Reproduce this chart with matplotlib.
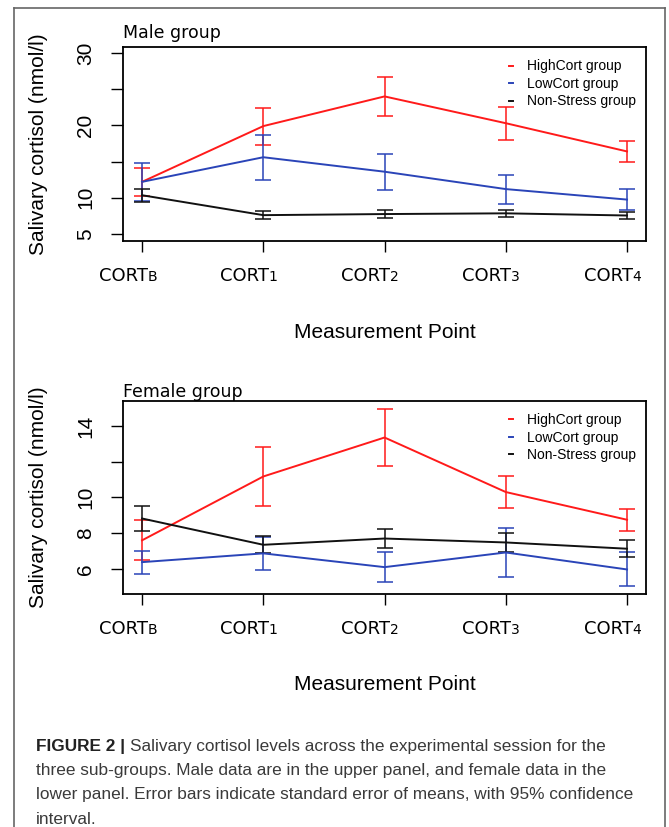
import numpy as np
import matplotlib
matplotlib.use("Agg")
import matplotlib.pyplot as plt
from matplotlib.lines import Line2D

# measurement points (x axis), subscript part of each label
points = ["B", "1", "2", "3", "4"]
groups = ["HighCort group", "LowCort group", "Non-Stress group"]
colors = ["#ff1a1a", "#2a44b8", "#111111"]

# male group: means and error half widths (nmol/l)
male_high = [12.2, 19.9, 24.0, 20.3, 16.4]
male_high_err = [1.95, 2.55, 2.7, 2.3, 1.5]
male_low = [12.2, 15.6, 13.6, 11.2, 9.75]
male_low_err = [2.6, 3.1, 2.5, 2.0, 1.5]
male_ns = [10.35, 7.6, 7.75, 7.85, 7.55]
male_ns_err = [0.88, 0.53, 0.57, 0.5, 0.55]

# female group
female_high = [7.6, 11.17, 13.35, 10.3, 8.75]
female_high_err = [1.12, 1.64, 1.62, 0.87, 0.61]
female_low = [6.38, 6.87, 6.1, 6.92, 5.97]
female_low_err = [0.65, 0.94, 0.84, 1.38, 0.95]
female_ns = [8.82, 7.35, 7.7, 7.48, 7.13]
female_ns_err = [0.69, 0.47, 0.53, 0.52, 0.48]

male_yticks = [5, 10, 15, 20, 25, 30]
male_ylabels = ["5", "10", "", "20", "", "30"]
female_yticks = [6, 8, 10, 12, 14]
female_ylabels = ["6", "8", "10", "", "14"]

caption_bold = "FIGURE 2 |"
caption_lines = [
    "Salivary cortisol levels across the experimental session for the",
    "three sub-groups. Male data are in the upper panel, and female data in the",
    "lower panel. Error bars indicate standard error of means, with 95% confidence",
    "interval.",
]

sans = ["Liberation Sans", "DejaVu Sans"]

fig = plt.figure(figsize=(6.69, 8.27), dpi=100)

ax1 = fig.add_axes([0.1839, 0.7086, 0.7818, 0.2346])
ax2 = fig.add_axes([0.1839, 0.2818, 0.7818, 0.2337])


def panel(ax, series, errs, yticks, ylabels, ylim, title, title_pad, leg_y):
    x = np.arange(len(points))
    for vals, err, col, name in zip(series, errs, colors, groups):
        ax.errorbar(x, vals, yerr=err, color=col, lw=1.4, elinewidth=1.1,
                    capsize=5.5, capthick=1.1, label=name)
    ax.set_xlim(-0.157, 4.157)
    ax.set_ylim(*ylim)
    ax.set_yticks(yticks)
    ax.set_yticklabels(ylabels, family=sans, fontsize=15, rotation=90, va="center")
    ax.set_xticks(x)
    ax.set_xticklabels([])
    ax.tick_params(axis="y", length=9, width=1.0, pad=11)
    ax.tick_params(axis="x", length=8, width=1.0)
    for s in ax.spines.values():
        s.set_linewidth(1.3)
    for i, p in enumerate(points):
        ax.annotate("CORT", xy=(i, 0), xycoords=("data", "axes fraction"),
                    xytext=(4, -29), textcoords="offset points",
                    ha="right", va="baseline", fontsize=13, family="DejaVu Sans")
        ax.annotate(p, xy=(i, 0), xycoords=("data", "axes fraction"),
                    xytext=(4, -29), textcoords="offset points",
                    ha="left", va="baseline", fontsize=10, family="DejaVu Sans")
    ax.set_ylabel("Salivary cortisol (nmol/l)", family=sans, fontsize=15, va="center")
    ax.yaxis.set_label_coords(-0.162, 0.5)
    ax.set_xlabel("Measurement Point", family=sans, fontsize=15, va="center")
    ax.xaxis.set_label_coords(0.5, -0.47)
    ax.set_title(title, loc="left", fontsize=12.5, family="DejaVu Sans", pad=title_pad)
    handles = [Line2D([], [], color=c, lw=1.4) for c in colors]
    ax.legend(handles, groups, loc="upper left", bbox_to_anchor=(0.715, leg_y),
              frameon=False, handlelength=0.25, handletextpad=1.0,
              labelspacing=0.25, prop={"family": sans, "size": 10})


panel(ax1, [male_high, male_low, male_ns],
      [male_high_err, male_low_err, male_ns_err],
      male_yticks, male_ylabels, (4.03, 30.83), "Male group", 6.5, 1.0)
panel(ax2, [female_high, female_low, female_ns],
      [female_high_err, female_low_err, female_ns_err],
      female_yticks, female_ylabels, (4.6, 15.41), "Female group", 3.0, 1.0)

# caption
cap_size = 12.4
t1 = fig.text(0.054, 1 - 746 / 827, caption_bold, fontsize=cap_size, weight="bold",
              family=sans, color="#222222", va="center")
ax2.annotate(caption_lines[0], xy=(1, 0.5), xycoords=t1, xytext=(3.5, 0),
             textcoords="offset points", va="center", fontsize=cap_size,
             family=sans, color="#3a3a3a")
for k, line in enumerate(caption_lines[1:], start=1):
    fig.text(0.054, 1 - (746 + 24.5 * k) / 827, line, fontsize=cap_size,
             family=sans, color="#3a3a3a", va="center")

# outer frame
fc = "#666666"
fig.add_artist(Line2D([14 / 669, 14 / 669], [0, 1 - 8 / 827], color=fc, lw=1.2))
fig.add_artist(Line2D([14 / 669, 665 / 669], [1 - 8 / 827, 1 - 8 / 827], color=fc, lw=1.2))
fig.add_artist(Line2D([665 / 669, 665 / 669], [0, 1 - 8 / 827], color=fc, lw=1.2))

fig.savefig("out.png", dpi=100)
